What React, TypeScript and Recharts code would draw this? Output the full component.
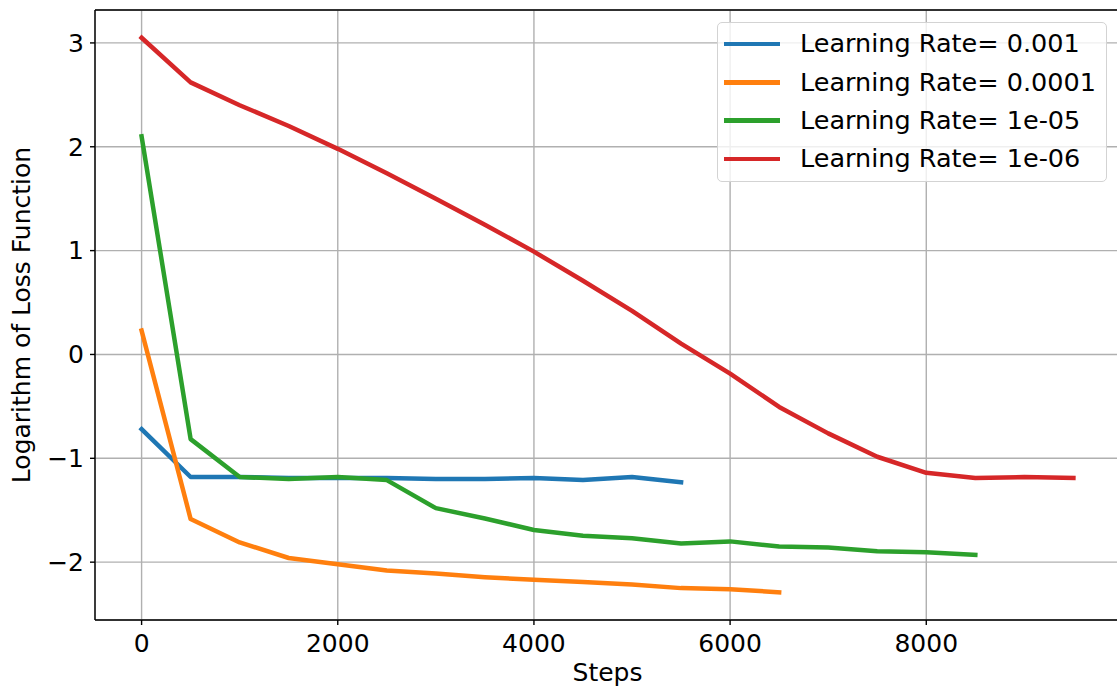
import { CartesianGrid, Legend, Line, LineChart, ReferenceLine, XAxis, YAxis } from 'recharts';

const STEPS = [0, 500, 1000, 1500, 2000, 2500, 3000, 3500, 4000, 4500, 5000, 5500, 6000, 6500, 7000, 7500, 8000, 8500, 9000, 9500];

// log(loss) per 500 steps
const LR_1E3 = [-0.72, -1.18, -1.18, -1.19, -1.19, -1.19, -1.2, -1.2, -1.19, -1.21, -1.18, -1.23];
const LR_1E4 = [0.23, -1.585, -1.81, -1.96, -2.02, -2.08, -2.11, -2.145, -2.17, -2.19, -2.215, -2.25, -2.26, -2.29];
const LR_1E5 = [2.1, -0.815, -1.18, -1.2, -1.18, -1.21, -1.48, -1.58, -1.69, -1.745, -1.77, -1.82, -1.8, -1.85, -1.86, -1.895, -1.905, -1.93];
const LR_1E6 = [3.05, 2.62, 2.4, 2.2, 1.98, 1.745, 1.5, 1.25, 0.99, 0.71, 0.42, 0.105, -0.185, -0.505, -0.76, -0.985, -1.14, -1.19, -1.18, -1.19];

const X_TICKS = [0, 2000, 4000, 6000, 8000];
const Y_TICKS = [-2, -1, 0, 1, 2, 3];

const SERIES = [
  { key: 'lr1e3', name: 'Learning Rate= 0.001', values: LR_1E3, color: '#1f77b4' },
  { key: 'lr1e4', name: 'Learning Rate= 0.0001', values: LR_1E4, color: '#ff7f0e' },
  { key: 'lr1e5', name: 'Learning Rate= 1e-05', values: LR_1E5, color: '#2ca02c' },
  { key: 'lr1e6', name: 'Learning Rate= 1e-06', values: LR_1E6, color: '#d62728' },
];

const data = STEPS.map((step, i) => {
  const row: Record<string, number | undefined> = { step };
  SERIES.forEach((s) => {
    row[s.key] = s.values[i];
  });
  return row;
});

const FONT = 'DejaVu Sans, sans-serif';
const FONT_SIZE = 25;
const X_DOMAIN = [-475, 9975];
const Y_DOMAIN = [-2.557, 3.317];

const tickStyle = { fontSize: FONT_SIZE, fill: '#000', fontFamily: FONT };

function LegendBox() {
  return (
    <div
      style={{
        width: 390,
        height: 160,
        boxSizing: 'border-box',
        border: '1.5px solid #d3d3d3',
        borderRadius: 5,
        background: 'rgba(255,255,255,0.8)',
        fontFamily: FONT,
        fontSize: 25.5,
        color: '#000',
        paddingTop: 2,
      }}
    >
      {SERIES.map((s) => (
        <div key={s.key} style={{ display: 'flex', alignItems: 'center', height: 38.3 }}>
          <div style={{ width: 56, height: 4.5, background: s.color, marginLeft: 6, marginRight: 20 }} />
          <span style={{ whiteSpace: 'nowrap', lineHeight: 1 }}>{s.name}</span>
        </div>
      ))}
    </div>
  );
}

export default function App() {
  return (
    <div style={{ position: 'absolute', left: 0, top: 0, width: 1117, height: 688, overflow: 'hidden', background: '#fff' }}>
      <LineChart width={1125} height={688} data={data} margin={{ top: 10, right: 5, bottom: 8, left: 0 }}>
        <CartesianGrid stroke="#b0b0b0" strokeWidth={1.4} />
        <XAxis
          dataKey="step"
          type="number"
          domain={X_DOMAIN}
          ticks={X_TICKS}
          allowDataOverflow
          height={60}
          tick={tickStyle}
          tickSize={5}
          tickMargin={9}
          axisLine={{ stroke: '#000', strokeWidth: 1.4 }}
          tickLine={{ stroke: '#000', strokeWidth: 1.4 }}
          label={{
            content: (props: any) => {
              const vb = props.viewBox || {};
              return (
                <text x={vb.x + vb.width / 2} y={681} textAnchor="middle" fontFamily={FONT} fontSize={FONT_SIZE} fill="#000">
                  Steps
                </text>
              );
            },
          }}
        />
        <YAxis
          type="number"
          domain={Y_DOMAIN}
          ticks={Y_TICKS}
          allowDataOverflow
          width={95}
          tick={tickStyle}
          tickSize={5}
          tickMargin={6}
          tickFormatter={(v: number) => String(v).replace('-', '\u2212')}
          axisLine={{ stroke: '#000', strokeWidth: 1.4 }}
          tickLine={{ stroke: '#000', strokeWidth: 1.4 }}
          label={{
            content: (props: any) => {
              const vb = props.viewBox || {};
              const cy = vb.y + vb.height / 2;
              return (
                <text
                  x={30}
                  y={cy}
                  transform={`rotate(-90 30 ${cy})`}
                  textAnchor="middle"
                  fontFamily={FONT}
                  fontSize={FONT_SIZE}
                  fill="#000"
                >
                  Logarithm of Loss Function
                </text>
              );
            },
          }}
        />
        <ReferenceLine y={Y_DOMAIN[1]} stroke="#000" strokeWidth={1.4} ifOverflow="visible" />
        {SERIES.map((s) => (
          <Line
            key={s.key}
            type="linear"
            dataKey={s.key}
            name={s.name}
            stroke={s.color}
            strokeWidth={4.5}
            strokeLinejoin="round"
            strokeLinecap="square"
            dot={false}
            activeDot={false}
            isAnimationActive={false}
          />
        ))}
        <Legend
          layout="vertical"
          align="center"
          verticalAlign="middle"
          content={() => <LegendBox />}
          wrapperStyle={{ top: 22, left: 717, width: 390, height: 160 }}
        />
      </LineChart>
    </div>
  );
}
